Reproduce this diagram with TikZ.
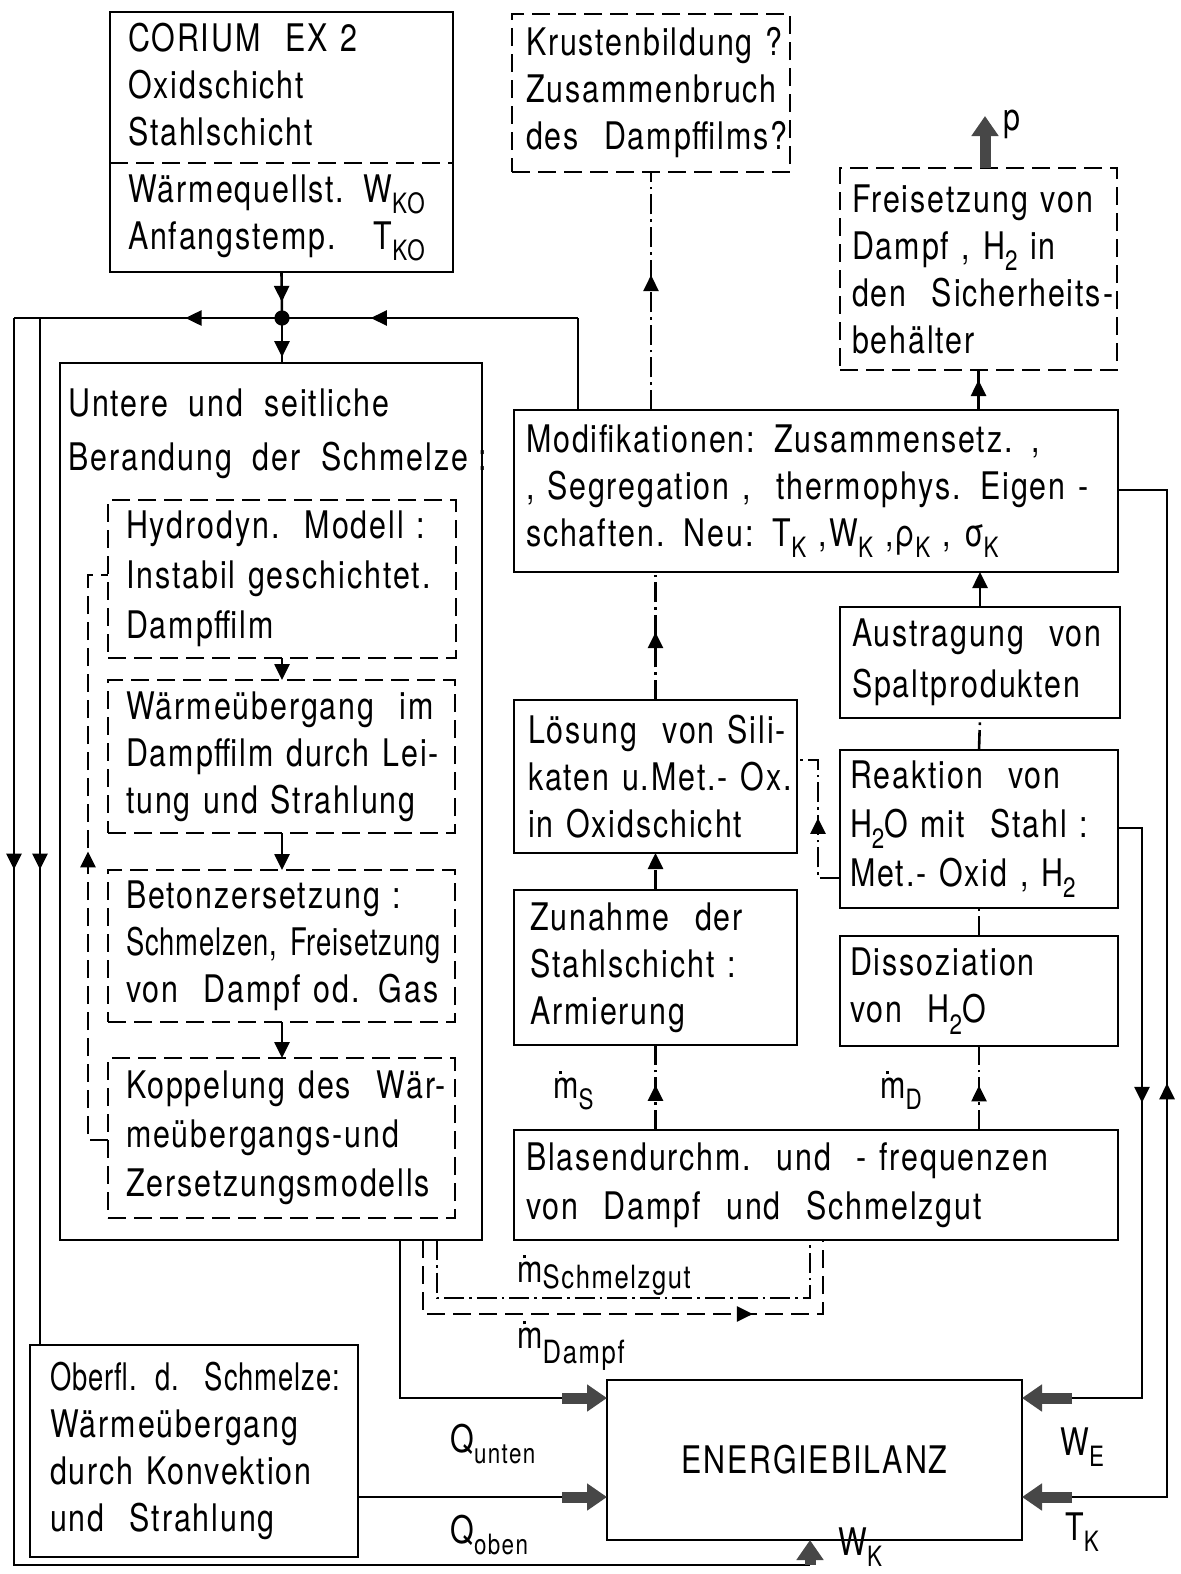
\documentclass[tikz,border=0pt]{standalone}
\usepackage{fontspec}
\setmainfont{TeX Gyre Heros}[FakeStretch=0.8,LetterSpace=5]
\newfontfamily\nar{TeX Gyre Heros}[FakeStretch=0.72,LetterSpace=2.5]
\usetikzlibrary{arrows.meta,decorations.markings,calc}
\newcommand\dn[1]{\raisebox{-0.3em}{\fontsize{14}{14}\selectfont #1}}
\newcommand\mdt{\makebox[0pt][l]{\hspace{0.14em}\raisebox{0.62em}{\rule{1.8pt}{1.8pt}}}m}
\newcommand\li[1]{\mbox{#1}}
\newcommand\nli[1]{\mbox{\nar #1}}
\newcommand\fs[1]{\fontsize{19}{#1}\selectfont}
\newcommand\bxat[8]{%
  \pgfmathsetmacro\bxw{(#4-#2)*0.5}%
  \pgfmathsetmacro\bxh{(#5-#3)*0.5}%
  \pgfmathsetmacro\bxt{(#4-#2)*0.5-2*#7}%
  \node[#6, inner xsep=#7pt, text width=\bxt pt, minimum width=\bxw pt, minimum height=\bxh pt] (#1) at (#2,#3) {#8};}
\tikzset{
  ln/.style={line width=1.3pt},
  dd/.style={line width=1.3pt, dash pattern=on 10pt off 2.5pt on 1.3pt off 2.5pt},
  dsh/.style={line width=1.3pt, dash pattern=on 9pt off 4pt},
  bx/.style={draw, line width=1.3pt, anchor=north west, align=left, inner ysep=0pt, outer sep=0pt, font=\fs{23.5}},
  dbx/.style={bx, dash pattern=on 9pt off 4pt},
  midarr/.style={postaction={decorate}, decoration={markings, mark=at position #1 with {\arrow{>}}}},
  fat/.style={line width=5.5pt, draw=black!72, -{Triangle[length=10pt,width=13pt]}},
  lbl/.style={inner sep=0pt, font=\fs{22}, anchor=base west},
}
\begin{document}
\begin{tikzpicture}[x=0.5pt, y=-0.5pt, >={Triangle[length=8pt,width=7.5pt]}]
\fill[white] (0,0) rectangle (1181,1574);
\useasboundingbox (0,0) rectangle (1181,1574);

% boxes
\bxat{cor}{110}{12}{453}{272}{bx}{9}{\li{CORIUM\ \ EX 2}\\\li{Oxidschicht}\\\li{Stahlschicht}\\[5pt]\li{Wärmequellst. W\dn{KO}}\\\li{Anfangstemp.\ \ \ T\dn{KO}}}
\bxat{kru}{512}{14}{790}{172}{dbx}{7}{\li{Krustenbildung ?}\\\li{Zusammenbruch}\\\li{des\ \ Dampffilms?}}
\bxat{frei}{840}{168}{1117}{370}{dbx}{6}{\li{Freisetzung von}\\\li{Dampf , H\dn{2} in}\\\li{den\ \ Sicherheits-}\\\li{behälter}}
\bxat{mod}{514}{410}{1118}{572}{bx}{6}{\li{Modifikationen: Zusammensetz. ,}\\\li{, Segregation ,\ \ thermophys. Eigen -}\\\li{schaften. Neu: T\dn{K} ,W\dn{K} ,ρ\dn{K} , σ\dn{K}}}
\bxat{unt}{60}{363}{482}{1240}{bx}{4}{}
\node[inner sep=0pt, anchor=north west, align=left, font=\fs{27}] (untl) at (68,388) {\li{Untere\ \ und\ \ seitliche}\\\li{Berandung\ \ der\ \ Schmelze :}};
\bxat{hyd}{108}{500}{456}{658}{dbx, font=\fs{25}}{9}{\li{Hydrodyn.\ \ Modell :}\\\li{Instabil geschichtet.}\\\li{Dampffilm}}
\bxat{wae}{108}{680}{455}{833}{dbx}{9}{\li{Wärmeübergang\ \ im}\\\li{Dampffilm durch Lei-}\\\li{tung und Strahlung}}
\bxat{bet}{108}{870}{455}{1022}{dbx}{9}{\li{Betonzersetzung :}\\\nli{Schmelzen, Freisetzung}\\\li{von\ \ Dampf od. Gas}}
\bxat{kop}{108}{1058}{455}{1218}{dbx, font=\fs{24.5}}{9}{\li{Koppelung des\ \ Wär-}\\\li{meübergangs-und}\\\li{Zersetzungsmodells}}
\bxat{loe}{514}{700}{797}{853}{bx}{7}{\li{Lösung\ \ von Sili-}\\\li{katen u.Met.- Ox.}\\\li{in Oxidschicht}}
\bxat{zun}{514}{890}{797}{1045}{bx}{8}{\li{Zunahme\ \ der}\\\li{Stahlschicht :}\\\li{Armierung}}
\bxat{aus}{840}{607}{1120}{718}{bx, font=\fs{25.5}}{6}{\li{Austragung\ \ von}\\\li{Spaltprodukten}}
\bxat{rea}{840}{750}{1118}{908}{bx, font=\fs{24.5}}{5}{\li{Reaktion\ \ von}\\\li{H\dn{2}O mit\ \ Stahl :}\\\li{Met.- Oxid , H\dn{2}}}
\bxat{dis}{840}{936}{1118}{1046}{bx}{5}{\li{Dissoziation}\\\li{von\ \ H\dn{2}O}}
\bxat{bla}{514}{1130}{1118}{1240}{bx, font=\fs{24.5}}{6}{\li{Blasendurchm.\ \ und\ \ - frequenzen}\\\li{von\ \ Dampf\ \ und\ \ Schmelzgut}}
\bxat{ob}{30}{1345}{358}{1557}{bx}{10}{\nli{Oberfl. d.\ \ Schmelze:}\\\li{Wärmeübergang}\\\li{durch Konvektion}\\\li{und\ \ Strahlung}}
\bxat{en}{607}{1380}{1022}{1540}{bx, align=center}{0}{ENERGIEBILANZ}

% divider in CORIUM box
\coordinate (cdv) at (0,163);
\draw[dsh] (cor.west |- cdv) -- (cor.east |- cdv);

% junction and top loop
\coordinate (J) at (282,318);
\coordinate (L1) at (14,318);
\coordinate (L2) at (40,318);
\coordinate (R1) at (578,318);
\coordinate (bl) at (14,1565);
\coordinate (wk) at (810,1565);
\draw[ln, midarr=0.65] (cor.south) -- (J);
\draw[ln, midarr=0.87] (J) -- (J |- unt.north);
\draw[ln, midarr=0.36] (J) -- (L1);
\draw[ln] (R1 |- mod.north) -- (R1);
\draw[ln, midarr=0.70] (R1) -- (J);
\draw[ln, midarr=0.27] (L1) -- (bl) -- (wk);
\draw[ln, midarr=0.537] (L2) -- (L2 |- ob.north);
\fill (J) circle[radius=3.8pt];
\draw[fat] (wk) -- (en.south -| wk);

% inner chain
\draw[ln, ->] (hyd.south -| J) -- (wae.north -| J);
\draw[ln, ->] (wae.south -| J) -- (bet.north -| J);
\draw[ln, ->] (bet.south -| J) -- (kop.north -| J);
\coordinate (lb1) at (88,1140);
\coordinate (lb2) at (88,575);
\draw[dsh, midarr=0.51] (kop.west |- lb1) -- (lb1) -- (lb2) -- (hyd.west |- lb2);

% right column connectors
\draw[dd, midarr=0.567] (kru.south |- mod.north) -- (kru.south);
\draw[ln, midarr=0.75] (frei.south |- mod.north) -- (frei.south);
\coordinate (pend) at (985,116);
\draw[fat] (frei.north -| pend) -- (pend);
\draw[dd, midarr=0.53] (loe.north) -- (loe.north |- mod.south);
\draw[dd, ->] (zun.north) -- (loe.south);
\draw[dd, midarr=0.53] (zun.south |- bla.north) -- (zun.south);
\draw[dd, midarr=0.53] (dis.south |- bla.north) -- (dis.south);
\draw[dd] (dis.north) -- (rea.south);
\draw[dd] (rea.north) -- (aus.south);
\draw[ln, ->] (aus.north) -- (aus.north |- mod.south);
\coordinate (lr1) at (818,760);
\coordinate (lr2) at (818,878);
\draw[dd, midarr=0.51] (rea.west |- lr2) -- (lr2) -- (lr1) -- (loe.east |- lr1);

% right side loops to Energiebilanz
\coordinate (re1) at (1142,828);
\coordinate (re2) at (1142,1398);
\coordinate (re3) at (1072,1398);
\draw[ln, midarr=0.45] (rea.east |- re1) -- (re1) -- (re2) -- (re3);
\draw[fat] (re3) -- (en.east |- re3);
\coordinate (tk1) at (1167,490);
\coordinate (tk2) at (1167,1497);
\coordinate (tk3) at (1072,1497);
\draw[ln, midarr=0.442] (tk3) -- (tk2) -- (tk1) -- (mod.east |- tk1);
\draw[fat] (tk3) -- (en.east |- tk3);

% left inputs to Energiebilanz
\coordinate (qu1) at (400,1398);
\coordinate (qu2) at (562,1398);
\draw[ln] (unt.south -| qu1) -- (qu1) -- (qu2);
\draw[fat] (qu2) -- (en.west |- qu2);
\coordinate (qo) at (562,1497);
\draw[ln] (ob.east |- qo) -- (qo);
\draw[fat] (qo) -- (en.west |- qo);

% mass flows Schmelzgut / Dampf
\coordinate (s1) at (437,1298);
\coordinate (s2) at (810,1298);
\draw[dd] (unt.south -| s1) -- (s1) -- (s2) -- (bla.south -| s2);
\coordinate (d1) at (423,1314);
\coordinate (d2) at (823,1314);
\draw[dsh, midarr=0.737] (unt.south -| d1) -- (d1) -- (d2) -- (bla.south -| d2);

% labels
\node[lbl] (lp) at (1003,130) {p};
\node[lbl] (lms) at (553,1098) {\mdt\dn{S}};
\node[lbl] (lmd) at (880,1098) {\mdt\dn{D}};
\node[lbl] (lmsg) at (517,1282) {\mdt\raisebox{-0.16em}{\fontsize{16}{16}\selectfont Schmelzgut}};
\node[lbl] (lmdp) at (517,1348) {\mdt\raisebox{-0.4em}{\fontsize{16}{16}\selectfont Dampf}};
\node[lbl] (lqu) at (450,1452) {Q\dn{unten}};
\node[lbl] (lqo) at (450,1543) {Q\dn{oben}};
\node[lbl] (lwe) at (1060,1455) {W\dn{E}};
\node[lbl] (ltk) at (1065,1540) {T\dn{K}};
\node[lbl] (lwk) at (838,1555) {W\dn{K}};
\end{tikzpicture}
\end{document}
